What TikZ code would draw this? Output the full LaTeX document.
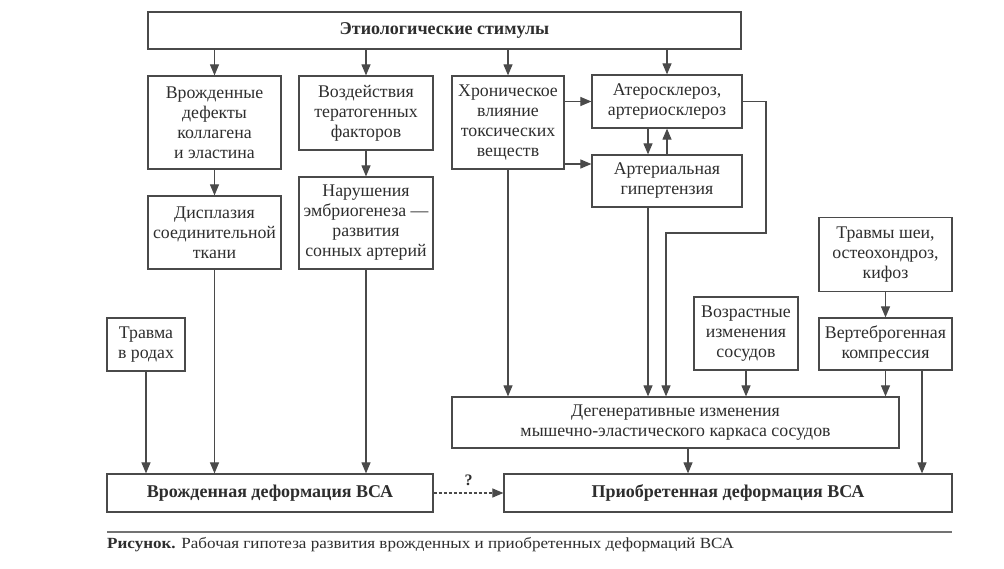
\documentclass[tikz,border=0pt]{standalone}
\usepackage{fontspec}
\setmainfont{Liberation Serif}
\newfontfamily\capfont[FakeStretch=1.1]{Liberation Serif}
\usetikzlibrary{arrows.meta}
\definecolor{lncol}{HTML}{4A4A4A}
\definecolor{txcol}{HTML}{2E2E2E}
\begin{document}
\begin{tikzpicture}[x=1pt,y=-1pt,
  box/.style={draw=lncol, line width=1.2pt, align=center, inner sep=0pt,
    font=\fontsize{17.8}{20}\selectfont, text=txcol},
  bbox/.style={box, font=\fontsize{18}{20}\selectfont\bfseries},
  arr/.style={draw=lncol, line width=1.1pt, -{Triangle[length=11pt,width=9pt]}},
  darr/.style={arr, dash pattern=on 3pt off 2pt},
  ln/.style={draw=black!55, line width=1.2pt}]
\fill[white] (0,0) rectangle (1004,569);
\useasboundingbox (0,0) rectangle (1004,569);

\node[bbox, minimum width=593pt, minimum height=37pt] (top) at (444.5,30.5) {Этиологические стимулы};
\node[box, minimum width=133pt, minimum height=93pt] (vrozh) at (214.5,122.5) {Врожденные\\дефекты\\коллагена\\и эластина};
\node[box, minimum width=134pt, minimum height=74pt] (vozd) at (366,113) {Воздействия\\тератогенных\\факторов};
\node[box, minimum width=112pt, minimum height=93pt] (hron) at (508,122.5) {Хроническое\\влияние\\токсических\\веществ};
\node[box, minimum width=150pt, minimum height=53pt] (ater) at (667,101.5) {Атеросклероз,\\артериосклероз};
\node[box, minimum width=150pt, minimum height=52pt] (arth) at (667,181) {Артериальная\\гипертензия};
\node[box, minimum width=133pt, minimum height=73pt] (displ) at (214.5,232.5) {Дисплазия\\соединительной\\ткани};
\node[box, minimum width=134pt, minimum height=92pt] (narush) at (366,223) {Нарушения\\эмбриогенеза —\\развития\\сонных артерий};
\node[box, minimum width=78pt, minimum height=53pt] (travma) at (146,344.5) {Травма\\в родах};
\node[bbox, minimum width=326pt, minimum height=38pt] (vrozhdef) at (270,493) {Врожденная деформация ВСА};
\node[box, minimum width=447pt, minimum height=51pt] (degen) at (675.5,422.5) {Дегенеративные изменения\\мышечно-эластического каркаса сосудов};
\node[bbox, minimum width=448pt, minimum height=38pt] (priob) at (728,493) {Приобретенная деформация ВСА};
\node[box, minimum width=104pt, minimum height=73pt] (vozr) at (746,333.5) {Возрастные\\изменения\\сосудов};
\node[box, minimum width=133pt, minimum height=74pt] (travshei) at (885.5,254.5) {Травмы шеи,\\остеохондроз,\\кифоз};
\node[box, minimum width=133pt, minimum height=52pt] (vert) at (885.5,344) {Вертеброгенная\\компрессия};

\coordinate (h2) at (0,164);
\coordinate (c648) at (648,0);
\coordinate (c666) at (666,0);
\coordinate (r1) at (766,233);
\coordinate (c922) at (922,0);
\coordinate (c688) at (688,0);

\draw[arr] (vrozh.north |- top.south) -- (vrozh.north);
\draw[arr] (vozd.north |- top.south) -- (vozd.north);
\draw[arr] (hron.north |- top.south) -- (hron.north);
\draw[arr] (ater.north |- top.south) -- (ater.north);
\draw[arr] (vrozh) -- (displ);
\draw[arr] (vozd) -- (narush);
\draw[arr] (displ.south) -- (displ.south |- vrozhdef.north);
\draw[arr] (narush.south) -- (narush.south |- vrozhdef.north);
\draw[arr] (travma.south) -- (travma.south |- vrozhdef.north);
\draw[arr] (ater.west -| hron.east) -- (ater.west);
\draw[arr] (h2 -| hron.east) -- (h2 -| arth.west);
\draw[arr] (c648 |- ater.south) -- (c648 |- arth.north);
\draw[arr] (arth.north) -- (ater.south);
\draw[arr] (ater.east) -- (ater.east -| r1) -- (r1) -- (r1 -| c666) -- (c666 |- degen.north);
\draw[arr] (c648 |- arth.south) -- (c648 |- degen.north);
\draw[arr] (hron.south) -- (hron.south |- degen.north);
\draw[arr] (vozr.south) -- (vozr.south |- degen.north);
\draw[arr] (travshei) -- (vert);
\draw[arr] (vert.south) -- (vert.south |- degen.north);
\draw[arr] (c922 |- vert.south) -- (c922 |- priob.north);
\draw[arr] (c688 |- degen.south) -- (c688 |- priob.north);
\draw[darr] (vrozhdef.east) -- node[above=3pt, font=\fontsize{16}{16}\selectfont\bfseries, text=txcol] (q) {?} (priob.west);

\coordinate (rl) at (107,532);
\coordinate (rr) at (952,532);
\draw[ln] (rl) -- (rr);
\node[anchor=base west, inner sep=0pt, font=\capfont\fontsize{15.5}{15.5}\selectfont, text=txcol] (cap) at (107,548) {\textbf{Рисунок.} Рабочая гипотеза развития врожденных и приобретенных деформаций ВСА};
\end{tikzpicture}
\end{document}
